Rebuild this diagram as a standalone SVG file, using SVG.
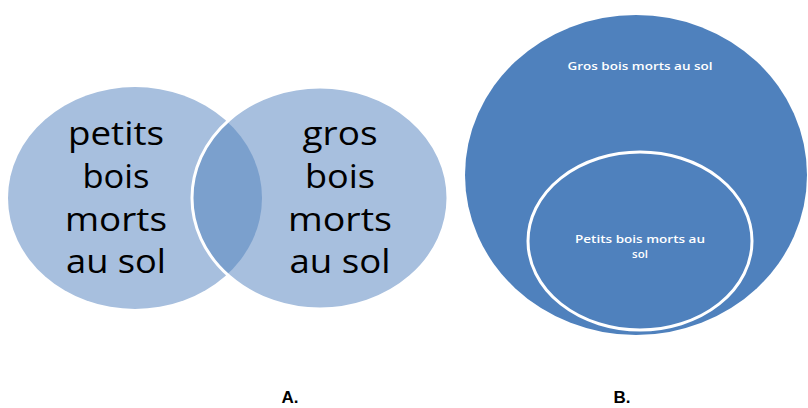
<svg xmlns="http://www.w3.org/2000/svg" width="808" height="408" viewBox="0 0 808 408">
<style>
.big{font-family:"Open Sans","Liberation Sans",sans-serif;font-size:33px;fill:#000;text-anchor:middle}
.small{font-family:"Open Sans","Liberation Sans",sans-serif;font-size:11.5px;font-weight:600;fill:#fff;text-anchor:middle}
.lab{font-family:"Liberation Sans",Arial,sans-serif;font-size:17px;font-weight:bold;fill:#000;text-anchor:middle}
</style>
<defs>
<clipPath id="clipL"><ellipse cx="135" cy="198" rx="127" ry="111"/></clipPath>
</defs>
<rect width="808" height="408" fill="#fff"/>
<g id="venn-left">
<ellipse cx="135" cy="198" rx="127" ry="111" fill="#A7BFDE"/>
<text class="big"><tspan x="116" y="145" textLength="96" lengthAdjust="spacingAndGlyphs">petits</tspan><tspan x="116" y="188" textLength="67" lengthAdjust="spacingAndGlyphs">bois</tspan><tspan x="116" y="231" textLength="102" lengthAdjust="spacingAndGlyphs">morts</tspan><tspan x="116" y="273" textLength="100" lengthAdjust="spacingAndGlyphs">au sol</tspan></text>
</g>
<g id="venn-right">
<ellipse cx="320" cy="198" rx="128" ry="111" fill="#A7BFDE"/>
<ellipse cx="320" cy="198" rx="128" ry="111" fill="#7BA0CD" clip-path="url(#clipL)"/>
<ellipse cx="320" cy="198" rx="128" ry="111" fill="none" stroke="#fff" stroke-width="3"/>
<text class="big"><tspan x="340" y="145" textLength="75" lengthAdjust="spacingAndGlyphs">gros</tspan><tspan x="340" y="188" textLength="70" lengthAdjust="spacingAndGlyphs">bois</tspan><tspan x="340" y="231" textLength="104" lengthAdjust="spacingAndGlyphs">morts</tspan><tspan x="340" y="273" textLength="101" lengthAdjust="spacingAndGlyphs">au sol</tspan></text>
</g>
<g id="outer">
<ellipse cx="636" cy="175" rx="171" ry="160" fill="#4F81BD"/>
<text class="small" x="640" y="70" textLength="145" lengthAdjust="spacingAndGlyphs">Gros bois morts au sol</text>
</g>
<g id="inner">
<ellipse cx="640" cy="241" rx="112" ry="89" fill="#4F81BD" stroke="#fff" stroke-width="3"/>
<text class="small"><tspan x="640" y="243" textLength="130" lengthAdjust="spacingAndGlyphs">Petits bois morts au</tspan><tspan x="640" y="258">sol</tspan></text>
</g>
<g id="labels">
<text class="lab" x="290" y="403">A.</text>
<text class="lab" x="622" y="403">B.</text>
</g>
</svg>
